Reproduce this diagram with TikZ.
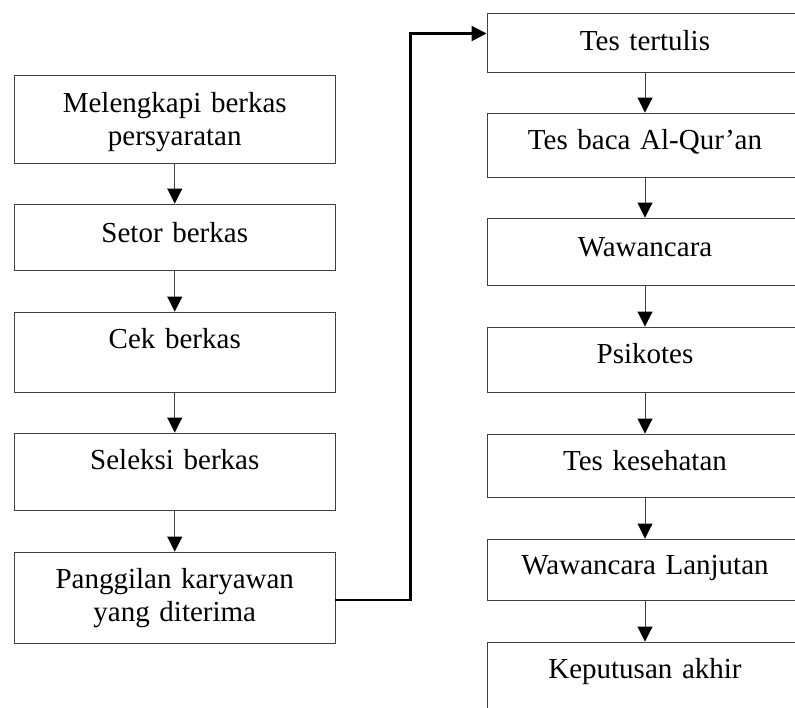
\documentclass[tikz,border=0pt]{standalone}
\usepackage{fontspec}
\setmainfont{Liberation Serif}
\usetikzlibrary{arrows.meta}

\begin{document}
\begin{tikzpicture}[x=1pt, y=-1pt,
		tahap/.style={draw=black!75, line width=0.9pt, inner sep=0pt, align=center,
			font=\fontsize{29}{33.5}\selectfont},
		kiri/.style={tahap, text width=320.5pt},
		kanan/.style={tahap, text width=316pt},
		alur/.style={draw=black!75, line width=0.9pt, -{Triangle[width=15pt, length=15pt, black]}},
		lanjut/.style={line width=2.2pt, -{Triangle[width=15pt, length=15pt]}}]
		\useasboundingbox (0, 0) rectangle (795, 707);
		\clip (0, 0) rectangle (795, 707);

		% kolom kiri
		\node[kiri, text height=37pt, text depth=51pt] (L1) at (174.75, 119) {Melengkapi berkas\\persyaratan};
		\node[kiri, text height=38pt, text depth=28pt] (L2) at (174.75, 237) {Setor berkas};
		\node[kiri, text height=36pt, text depth=44pt] (L3) at (174.75, 352) {Cek berkas};
		\node[kiri, text height=36pt, text depth=41pt] (L4) at (174.75, 471.5) {Seleksi berkas};
		\node[kiri, text height=36pt, text depth=55pt] (L5) at (174.75, 597.5) {Panggilan karyawan\\yang diterima};

		% kolom kanan
		\node[kanan, text height=37pt, text depth=22pt] (R1) at (645, 42.5) {Tes tertulis};
		\node[kanan, text height=36pt, text depth=28pt] (R2) at (645, 145) {Tes baca Al-Qur’an};
		\node[kanan, text height=38pt, text depth=29pt] (R3) at (645, 251.5) {Wawancara};
		\node[kanan, text height=36pt, text depth=29pt] (R4) at (645, 359.5) {Psikotes};
		\node[kanan, text height=36pt, text depth=27pt] (R5) at (645, 465.5) {Tes kesehatan};
		\node[kanan, text height=35pt, text depth=26pt] (R6) at (645, 569.5) {Wawancara Lanjutan};
		\node[kanan, text height=36pt, text depth=42pt] (R7) at (645, 681) {Keputusan akhir};

		\draw[alur] (L1) -- (L2);
		\draw[alur] (L2) -- (L3);
		\draw[alur] (L3) -- (L4);
		\draw[alur] (L4) -- (L5);

		\draw[alur] (R1) -- (R2);
		\draw[alur] (R2) -- (R3);
		\draw[alur] (R3) -- (R4);
		\draw[alur] (R4) -- (R5);
		\draw[alur] (R5) -- (R6);
		\draw[alur] (R6) -- (R7);

		\draw[lanjut] ([yshift=-2.5pt]L5.east) -- ++(75, 0) |- ([yshift=9pt]R1.west);
	\end{tikzpicture}
\end{document}
